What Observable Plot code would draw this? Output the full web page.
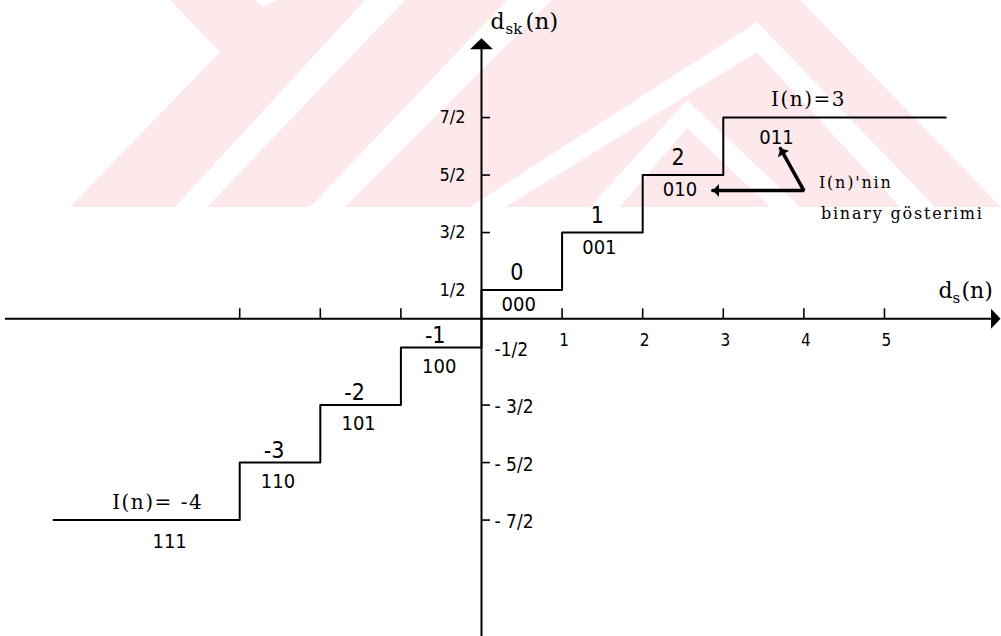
<!DOCTYPE html>
<html>
<head>
<meta charset="utf-8">
<script src="https://cdn.jsdelivr.net/npm/d3@7"></script>
<script src="https://cdn.jsdelivr.net/npm/@observablehq/plot@0.6"></script>
<style>
  html, body { margin: 0; padding: 0; background: #fff; }
  #wrap { position: relative; width: 1001px; height: 636px; overflow: hidden; }
  #emblem, #chart { position: absolute; left: 0; top: 0; }
</style>
</head>
<body>
<div id="wrap">
  <!-- faint background emblem behind the figure -->
  <svg id="emblem" width="1001" height="636" viewBox="0 0 1001 636">
    <polygon fill="#fde8ec" points="170,0 800,0 1001,207 70,207 220,52"/>
    <g fill="#fff">
      <polygon points="175,207 207,207 405,0 365,0"/>
      <polygon points="310,207 345,207 552,0 507,0"/>
      <polygon points="470,207 757,22 935,207 900,207 757,52 505,207"/>
      <polygon points="590,207 687,100 800,207 770,207 687,128 620,207"/>
      <polygon points="255,0 277,0 263,7"/>
    </g>
  </svg>
  <div id="chart"></div>
</div>
<script>
// Quantizer codes, their 3-bit binary words and output levels d_sk(n)
const codes = [-4, -3, -2, -1, 0, 1, 2, 3];
const bits = ["111", "110", "101", "100", "000", "001", "010", "011"];
const levels = [-3.5, -2.5, -1.5, -0.5, 0.5, 1.5, 2.5, 3.5];
// input interval of each step along d_s(n)
const stepFrom = [-5.31, -3, -2, -1, 0, 1, 2, 3];
const stepTo = [-3, -2, -1, 0, 1, 2, 3, 5.76];

// axes
const xAxisSpan = [-5.906, 6.44];
const yAxisSpan = [-5.53, 4.88];
const xTicks = [-3, -2, -1, 1, 2, 3, 4, 5];
const xTickLabels = [1, 2, 3, 4, 5];
const yTicks = [3.5, 2.5, 1.5, -1.5, -2.5, -3.5];
const yPosValues = [3.5, 2.5, 1.5, 0.5];
const yPosLabels = ["7/2", "5/2", "3/2", "1/2"];
const yNegValues = [-0.5, -1.5, -2.5, -3.5];
const yNegLabels = ["-1/2", "- 3/2", "- 5/2", "- 7/2"];

// pointer from the note to the binary words "011" and "010"
const pointer = [
  {x: 3.71, y: 2.96},
  {x: 4.0, y: 2.23},
  {x: 2.87, y: 2.23}
];

const steps = codes.map((c, i) => ({
  code: c, bits: bits[i], level: levels[i], from: stepFrom[i], to: stepTo[i]
}));
const last = steps[steps.length - 1];
const stair = steps.map(s => ({x: s.from, y: s.level})).concat([{x: last.to, y: last.level}]);
const upper = steps.filter(s => s.code >= 0 && s.code <= 2);
const lower = steps.filter(s => s.code < 0 && s.code >= -3);
const first = steps[0];
const mid = s => (s.from + s.to) / 2;

// filled arrowhead, tip at the anchor, pointing up before rotation
const arrowHead = {
  draw(ctx, size) {
    const r = Math.sqrt(size / Math.PI);
    ctx.moveTo(0, 0);
    ctx.lineTo(r, r * 0.95);
    ctx.lineTo(-r, r * 0.95);
    ctx.closePath();
  }
};

const serif = "'DejaVu Serif', serif";
const sans = "'DejaVu Sans Condensed', 'DejaVu Sans', sans-serif";

const chart = Plot.plot({
  width: 1001,
  height: 636,
  margin: 0,
  x: {domain: [-5.968, 6.452], axis: null},
  y: {domain: [-5.525, 5.536], axis: null},
  style: {background: "transparent", color: "#000"},
  marks: [
    // axes
    Plot.ruleY([0], {x1: xAxisSpan[0], x2: xAxisSpan[1] - 0.05, strokeWidth: 2}),
    Plot.ruleX([0], {y1: yAxisSpan[0], y2: yAxisSpan[1] - 0.1, strokeWidth: 2}),
    Plot.dot([{x: xAxisSpan[1], y: 0}], {x: "x", y: "y", symbol: arrowHead, r: 10, rotate: 90, fill: "#000", stroke: null}),
    Plot.dot([{x: 0, y: yAxisSpan[1]}], {x: "x", y: "y", symbol: arrowHead, r: 11.5, fill: "#000", stroke: null}),
    Plot.ruleX(xTicks, {x: d => d, y1: 0, y2: 0, insetTop: -10, strokeWidth: 1.6}),
    Plot.ruleY(yTicks, {y: d => d, x1: 0, x2: 0, insetRight: -9, strokeWidth: 1.6}),
    Plot.text(xTickLabels, {x: d => d, y: 0, text: d => String(d), dx: 2, dy: 22, fontSize: 17, fontFamily: sans}),
    Plot.text(yPosValues, {x: 0, y: d => d, text: (d, i) => yPosLabels[i], dx: -16, textAnchor: "end", fontSize: 18, fontFamily: sans}),
    Plot.text(yNegValues, {x: 0, y: d => d, text: (d, i) => yNegLabels[i], dx: 13, dy: 2, textAnchor: "start", fontSize: 19, fontFamily: sans}),

    // axis titles
    Plot.text([0], {x: 0, y: yAxisSpan[1], text: ["d"], dx: 9, dy: -9.5, textAnchor: "start", lineAnchor: "bottom", fontSize: 22, fontFamily: serif}),
    Plot.text([0], {x: 0, y: yAxisSpan[1], text: ["sk"], dx: 24, dy: -4.5, textAnchor: "start", lineAnchor: "bottom", fontSize: 15, fontFamily: serif}),
    Plot.text([0], {x: 0, y: yAxisSpan[1], text: ["(n)"], dx: 44, dy: -9.5, textAnchor: "start", lineAnchor: "bottom", fontSize: 23, fontFamily: serif}),
    Plot.text([0], {x: xAxisSpan[1], y: 0, text: ["d"], dx: -62, dy: -21, textAnchor: "start", lineAnchor: "bottom", fontSize: 22, fontFamily: serif}),
    Plot.text([0], {x: xAxisSpan[1], y: 0, text: ["s"], dx: -48, dy: -16, textAnchor: "start", lineAnchor: "bottom", fontSize: 15, fontFamily: serif}),
    Plot.text([0], {x: xAxisSpan[1], y: 0, text: ["(n)"], dx: -39, dy: -21, textAnchor: "start", lineAnchor: "bottom", fontSize: 22, fontFamily: serif}),

    // quantizer staircase
    Plot.line(stair, {x: "x", y: "y", curve: "step-after", strokeWidth: 2}),

    // code values above each step, binary words below
    Plot.text(upper, {x: mid, y: "level", text: s => String(s.code), dx: -5, dy: -17, fontSize: 23, fontFamily: sans}),
    Plot.text(lower, {x: mid, y: "level", text: s => String(s.code), dx: -6, dy: -12, fontSize: 23, fontFamily: sans}),
    Plot.text(upper, {x: mid, y: "level", text: "bits", dx: -3, dy: 15, fontSize: 20, fontFamily: sans}),
    Plot.text(lower, {x: mid, y: "level", text: "bits", dx: -2, dy: 19, fontSize: 20, fontFamily: sans}),
    Plot.text([last], {x: mid, y: "level", text: s => `I(n)=${s.code}`, dx: -26, dy: -18, fontSize: 20, fontFamily: serif}),
    Plot.text([last], {x: mid, y: "level", text: "bits", dx: -58, dy: 20, fontSize: 20, fontFamily: sans}),
    Plot.text([first], {x: mid, y: "level", text: s => `I(n)= ${s.code}`, dx: 11, dy: -17, fontSize: 20, fontFamily: serif}),
    Plot.text([first], {x: mid, y: "level", text: "bits", dx: 23, dy: 22, fontSize: 20, fontFamily: sans}),

    // note with its pointer
    Plot.line(pointer, {x: "x", y: "y", strokeWidth: 3.5, strokeLinejoin: "miter"}),
    Plot.dot([pointer[0]], {x: "x", y: "y", symbol: arrowHead, r: 6.5, rotate: -29, fill: "#000", stroke: null}),
    Plot.dot([pointer[2]], {x: "x", y: "y", symbol: arrowHead, r: 6.5, rotate: -90, fill: "#000", stroke: null}),
    Plot.text([pointer[1]], {x: "x", y: "y", text: ["I(n)'nin"], dx: 15, dy: -8, textAnchor: "start", fontSize: 16, fontFamily: serif}),
    Plot.text([pointer[1]], {x: "x", y: "y", text: ["binary gösterimi"], dx: 17, dy: 23, textAnchor: "start", fontSize: 16, fontFamily: serif})
  ]
});

chart.querySelectorAll("text").forEach(t => {
  const s = t.textContent;
  if (/^I\(n\)=/.test(s)) t.setAttribute("letter-spacing", "1.5");
  if (/binary|'nin/.test(s)) t.setAttribute("letter-spacing", "1.8");
});

document.getElementById("chart").appendChild(chart);
</script>
</body>
</html>
